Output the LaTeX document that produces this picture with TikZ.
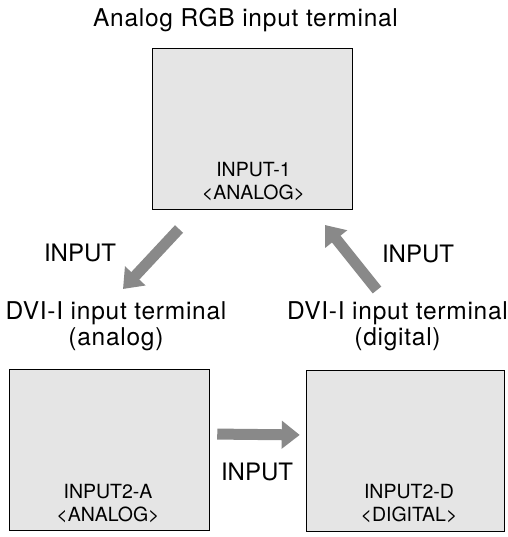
\documentclass[tikz,border=0pt]{standalone}
\usepackage{fontspec}
\setmainfont{TeX Gyre Heros}
\newfontfamily\widefont[LetterSpace=3]{TeX Gyre Heros}
\usetikzlibrary{positioning, arrows.meta}
\definecolor{screengray}{HTML}{E5E5E5}
\definecolor{arrowgray}{HTML}{898989}

\begin{document}
\begin{tikzpicture}[x=1pt, y=-1pt, >={Triangle[length=18pt,width=27pt]},
    screen/.style={draw, line width=1.5pt, fill=screengray, minimum width=200pt, minimum height=161pt, inner sep=0pt},
    biglabel/.style={font=\widefont\fontsize{24.5}{26}\selectfont, align=center, anchor=base, inner sep=0pt},
    feedlabel/.style={font=\fontsize{24}{26}\selectfont, anchor=base, inner sep=0pt},
    tag/.style={font=\fontsize{19.5}{23}\selectfont, align=center, anchor=base, inner sep=0pt},
    feed/.style={->, line width=11pt, draw=arrowgray}]
    \useasboundingbox (0,0) rectangle (507,537);

    % Screens for the three inputs
    \node[screen] (in1) at (252.5,129) {};
    \node[screen] (in2a) at (109.5,450) {};
    \node[screen, minimum width=198pt] (in2d) at (405.5,451) {};

    % Texts inside the screens (base = last line)
    \node[tag] (tag1) at (253.5,200) {INPUT-1\\<ANALOG>};
    \node[tag] (tag2a) at (108,521) {INPUT2-A\\<ANALOG>};
    \node[tag] (tag2d) at (409,521) {INPUT2-D\\<DIGITAL>};

    % Terminal names
    \node[biglabel] (rgb) at (245.5,27) {Analog RGB input terminal};
    \node[biglabel] (dvia) at (116,345) {DVI-I input terminal\\(analog)};
    \node[biglabel] (dvid) at (397.5,345) {DVI-I input terminal\\(digital)};

    % Labels of the arrows
    \node[feedlabel] (inleft) at (80,261) {INPUT};
    \node[feedlabel] (inright) at (418,262) {INPUT};
    \node[feedlabel] (inmid) at (257,480) {INPUT};

    % Ends of the slanted arrows
    \coordinate (leftfrom) at (179,229);
    \coordinate (leftto) at (123,289);
    \coordinate (rightfrom) at (377,290);
    \coordinate (rightto) at (325,225);

    % Arrows
    \draw[feed] (leftfrom) -- (leftto);
    \draw[feed] (rightfrom) -- (rightto);
    \draw[feed, shorten <=7pt, shorten >=6pt] ([yshift=16pt]in2a.east) -- ([yshift=16pt]in2d.west);
\end{tikzpicture}
\end{document}
